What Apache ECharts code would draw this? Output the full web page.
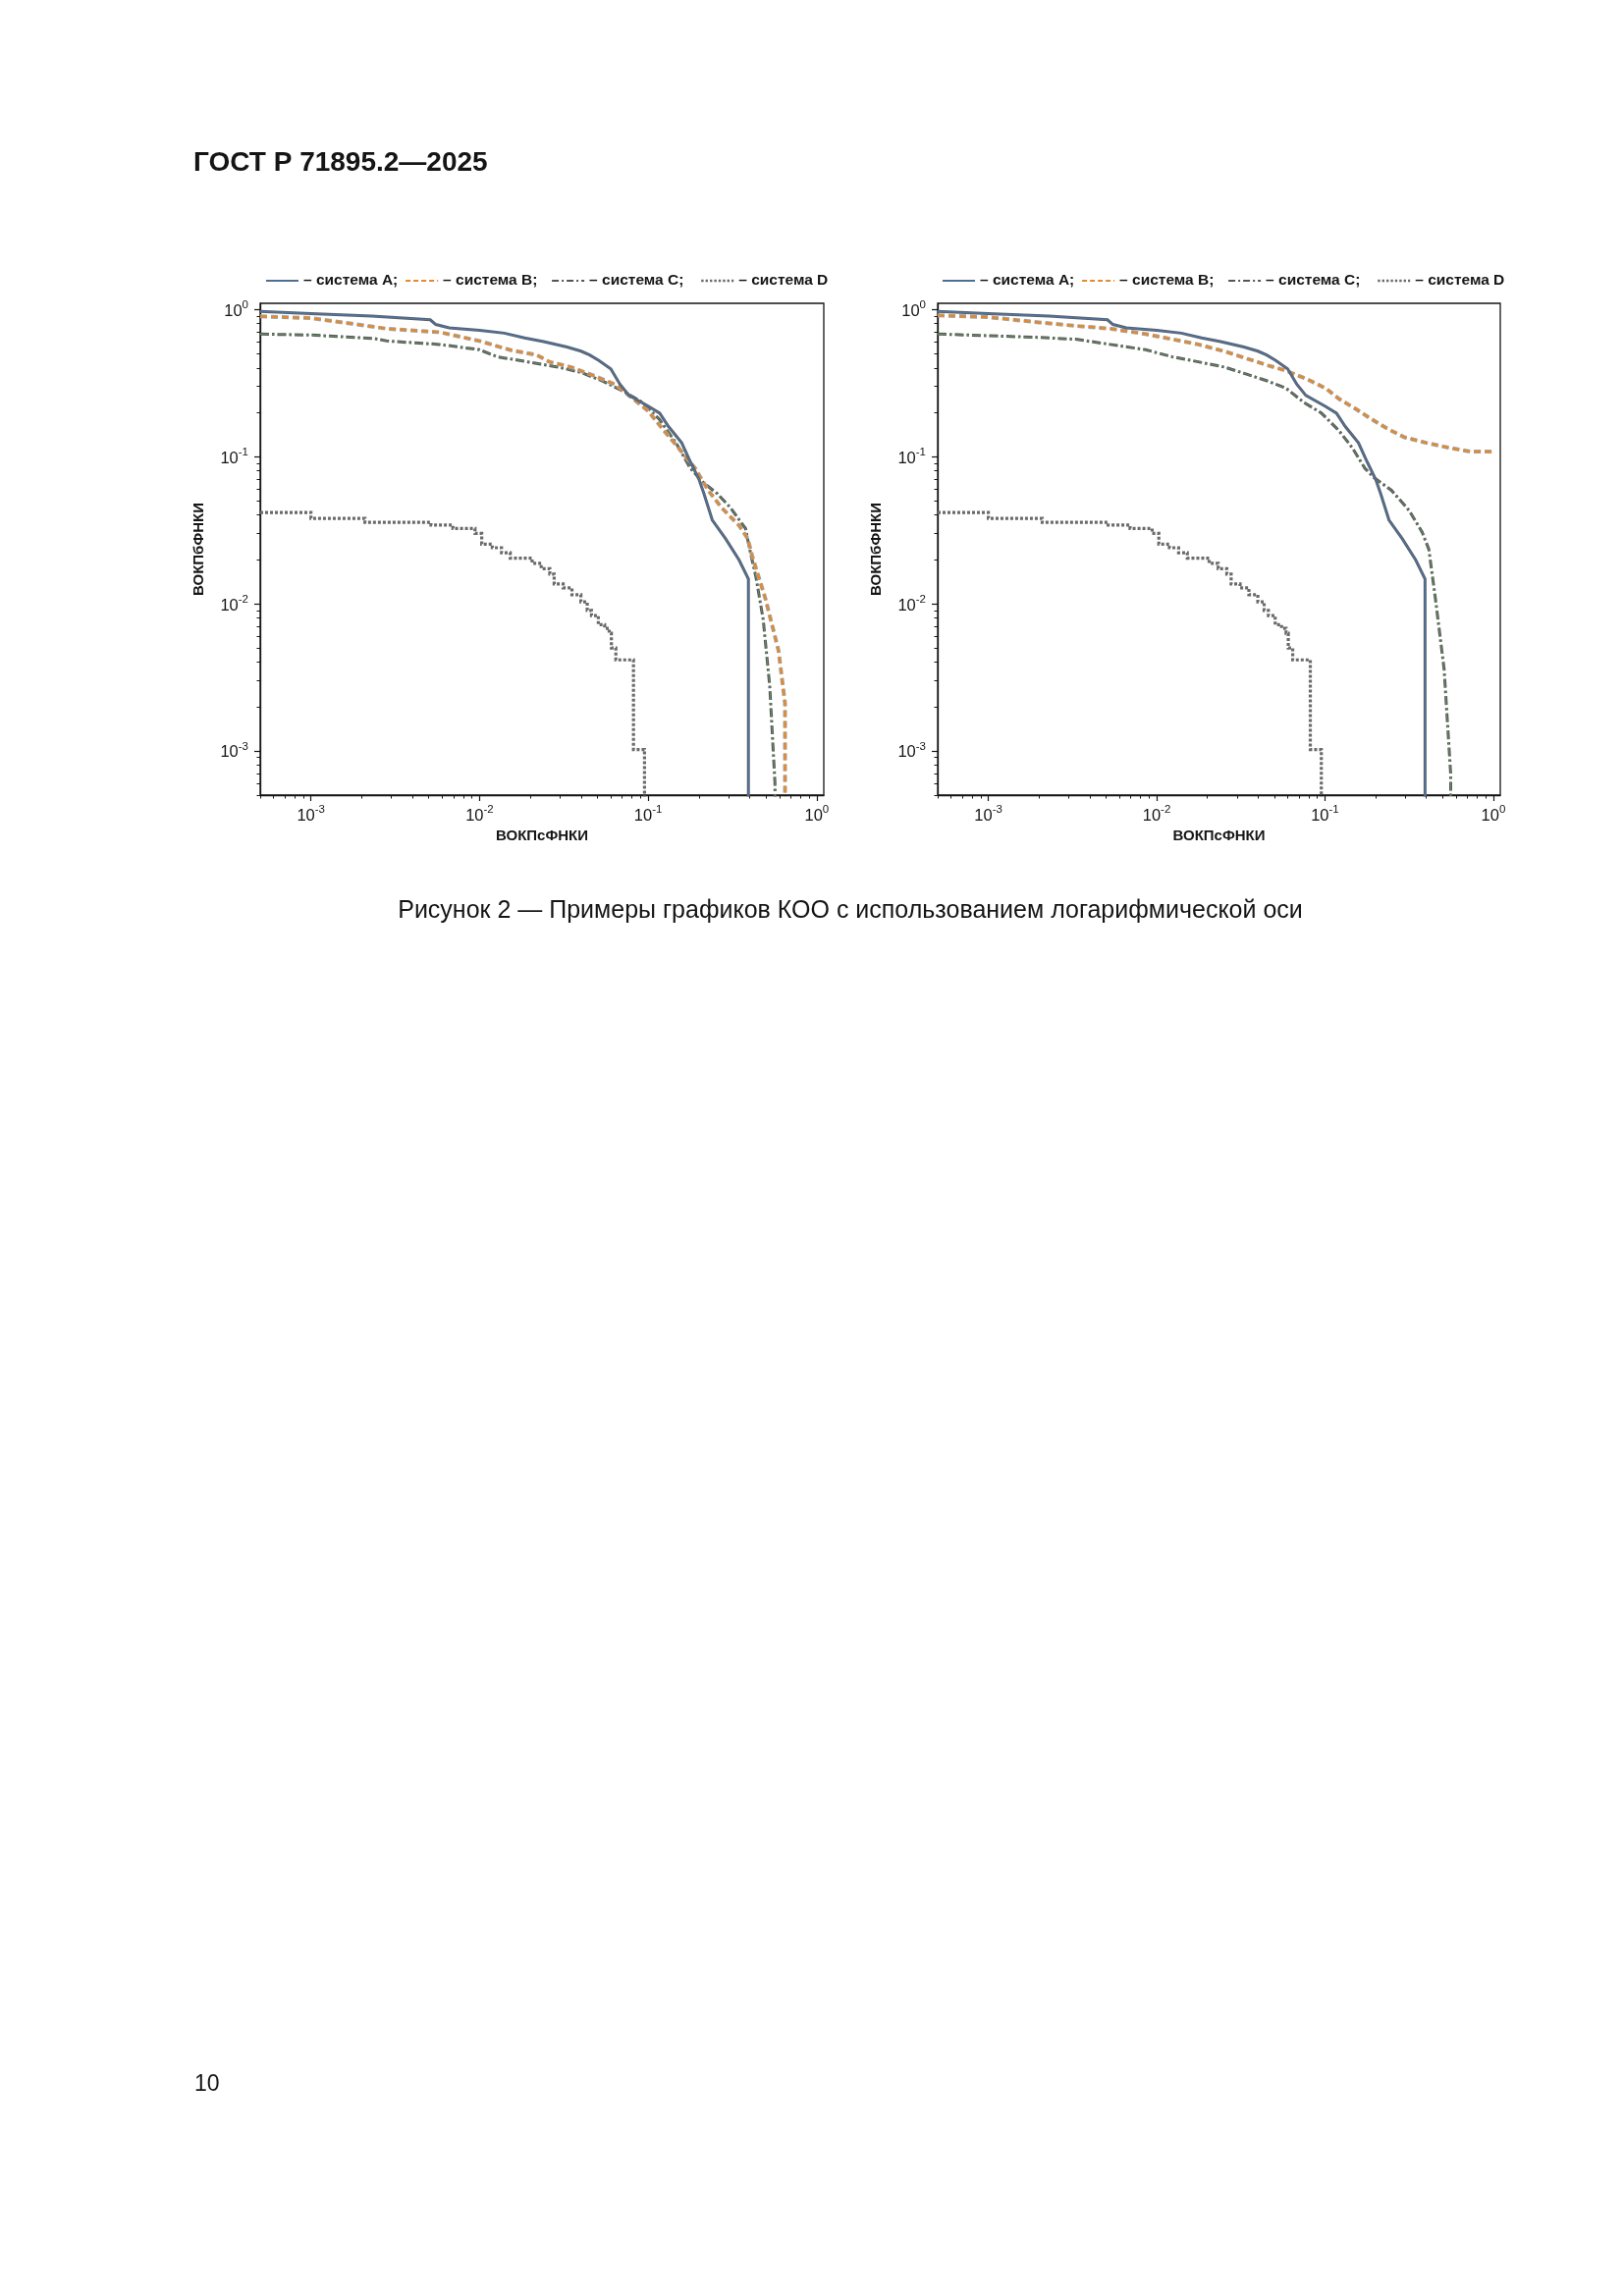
<!DOCTYPE html>
<html><head><meta charset="utf-8">
<script src="https://cdn.jsdelivr.net/npm/echarts@6/dist/echarts.min.js"></script>
<style>html,body{margin:0;padding:0;background:#fff}#c{width:1654px;height:2339px}</style>
</head><body><div id="c"></div>
<script>
// ---------- data ----------
const axisMin = 0.0005, axisMax = 1.1;
const majorTicks = [0.001, 0.01, 0.1, 1];
const legendLabels = ['– система A;', '– система B;', '– система C;', '– система D'];
const axisTitleX = 'ВОКПсФНКИ';
const axisTitleY = 'ВОКПбФНКИ';

// system A and D (identical in both panels)
const sysA = [[5e-4,0.97],[1e-3,0.935],[2.3e-3,0.90],[5.1e-3,0.85],[5.5e-3,0.79],[6.6e-3,0.75],[0.010,0.72],[0.014,0.69],[0.0185,0.64],[0.024,0.605],[0.033,0.555],[0.040,0.52],[0.045,0.49],[0.051,0.45],[0.060,0.395],[0.068,0.31],[0.077,0.26],[0.100,0.22],[0.117,0.197],[0.132,0.16],[0.158,0.124],[0.178,0.092],[0.200,0.070],[0.214,0.056],[0.240,0.037],[0.288,0.0276],[0.346,0.0198],[0.393,0.0147],[0.393,1e-5]];
const sysD = [[5e-4,0.0417],[1e-3,0.038],[2.09e-3,0.0357],[5.15e-3,0.0342],[6.95e-3,0.0324],[9.4e-3,0.030],[0.0103,0.0254],[0.0119,0.024],[0.0135,0.0222],[0.0152,0.0204],[0.0205,0.0188],[0.0232,0.0173],[0.0261,0.0159],[0.0277,0.0136],[0.0313,0.0128],[0.0353,0.0115],[0.0399,0.0103],[0.0435,0.009],[0.0461,0.0083],[0.0506,0.0072],[0.0552,0.0068],[0.0587,0.0063],[0.0605,0.005],[0.0643,0.00415],[0.0818,0.00102],[0.0951,1e-5]];
// left panel
const sysB_left = [[5e-4,0.896],[1e-3,0.872],[1.75e-3,0.80],[2.8e-3,0.74],[5.8e-3,0.70],[0.010,0.61],[0.0152,0.53],[0.0218,0.49],[0.026,0.44],[0.035,0.405],[0.048,0.353],[0.064,0.308],[0.077,0.26],[0.100,0.204],[0.124,0.15],[0.158,0.108],[0.190,0.083],[0.227,0.059],[0.272,0.045],[0.346,0.034],[0.390,0.0276],[0.414,0.021],[0.496,0.0108],[0.593,0.0048],[0.648,0.0021],[0.648,1e-5]];
const sysC_left = [[5e-4,0.68],[1e-3,0.67],[2.36e-3,0.634],[2.83e-3,0.61],[5.8e-3,0.578],[0.010,0.532],[0.0127,0.477],[0.0193,0.44],[0.0294,0.405],[0.040,0.373],[0.054,0.325],[0.0725,0.275],[0.092,0.234],[0.117,0.178],[0.148,0.121],[0.178,0.083],[0.214,0.066],[0.257,0.056],[0.307,0.045],[0.378,0.0324],[0.400,0.0234],[0.436,0.0151],[0.481,0.0078],[0.526,0.00275],[0.565,0.0006],[0.565,1e-5]];
// right panel
const sysB_right = [[5e-4,0.91],[1e-3,0.886],[2.0e-3,0.816],[3.3e-3,0.773],[5.3e-3,0.74],[8.6e-3,0.68],[0.0123,0.628],[0.0177,0.578],[0.0254,0.518],[0.0342,0.464],[0.046,0.416],[0.0587,0.383],[0.079,0.334],[0.101,0.291],[0.121,0.247],[0.153,0.21],[0.184,0.183],[0.234,0.155],[0.297,0.135],[0.40,0.124],[0.54,0.115],[0.73,0.108],[0.99,0.108]];
const sysC_right = [[5e-4,0.68],[1e-3,0.663],[2.0e-3,0.645],[3.3e-3,0.627],[5.3e-3,0.578],[8.6e-3,0.532],[0.0123,0.477],[0.0177,0.44],[0.0254,0.405],[0.0342,0.363],[0.046,0.325],[0.0587,0.291],[0.0746,0.234],[0.095,0.198],[0.121,0.15],[0.145,0.115],[0.173,0.083],[0.195,0.072],[0.248,0.059],[0.316,0.043],[0.378,0.0306],[0.414,0.0234],[0.453,0.0108],[0.51,0.0036],[0.558,0.0007],[0.558,1e-5]];

// ---------- helpers ----------
const F = "'Liberation Sans', Arial, Helvetica, sans-serif";
const INK = '#151515';
const minorTicks = [];
[1e-4, 1e-3, 1e-2, 1e-1].forEach(d => { for (let k = 2; k <= 9; k++) { const v = +(k * d).toPrecision(3); if (v >= axisMin && v <= axisMax) minorTicks.push(v); } });

function fmtLog(v) { const e = Math.round(Math.log10(v)); return '{b|10}{s|' + e + '}'; }
const richLab = {
  b: { fontSize: 16.5, fontFamily: F, color: INK, lineHeight: 21, verticalAlign: 'bottom' },
  s: { fontSize: 11.5, fontFamily: F, color: INK, lineHeight: 9, verticalAlign: 'top' }
};

const grids = [
  { left: 265, top: 309, width: 574, height: 501 },
  { left: 955, top: 309, width: 573, height: 501 }
];

function makeAxes(dim, gi) {
  const isX = dim === 'x';
  const major = {
    type: 'log', logBase: 10, gridIndex: gi, min: axisMin, max: axisMax,
    position: isX ? 'bottom' : 'left',
    name: isX ? axisTitleX : axisTitleY, nameLocation: 'middle', nameGap: isX ? 34 : 55,
    nameRotate: isX ? 0 : 90,
    nameTextStyle: { fontSize: 15, fontWeight: 'bold', color: INK, fontFamily: F },
    axisLine: { show: true, onZero: false, lineStyle: { color: INK, width: 1.3 } },
    axisTick: { show: true, customValues: majorTicks, length: 6, lineStyle: { color: INK, width: 1.2 } },
    axisLabel: { show: true, customValues: majorTicks, formatter: fmtLog, margin: isX ? 9 : 12, rich: richLab },
    splitLine: { show: false }, minorTick: { show: false }, minorSplitLine: { show: false }
  };
  const minor = {
    type: 'log', logBase: 10, gridIndex: gi, min: axisMin, max: axisMax,
    position: isX ? 'bottom' : 'left',
    axisLine: { show: false, onZero: false },
    axisTick: { show: true, customValues: minorTicks, length: 3.5, lineStyle: { color: INK, width: 1 } },
    axisLabel: { show: false }, splitLine: { show: false }
  };
  return [major, minor];
}

function ser(name, data, gi, color, width, dash, z, step) {
  return {
    type: 'line', name: name, data: data, xAxisIndex: gi * 2, yAxisIndex: gi * 2,
    symbol: 'none', showSymbol: false, silent: true, animation: false, clip: true, z: z,
    step: step || false,
    lineStyle: { color: color, width: width, type: dash, cap: 'butt', join: 'miter' }
  };
}
const dashB = [7, 4], dashC = [9, 3, 2.5, 3], dashD = [3, 2];

function panelSeries(gi, B, C) {
  const p = 'p' + gi;
  return [
    ser(p + 'D', sysD, gi, '#6a6a6a', 3.2, dashD, 3, 'end'),
    ser(p + 'Cu', C, gi, '#555555', 3, dashC, 4),
    ser(p + 'C', C, gi, '#6a9a6a', 0.9, dashC, 5),
    ser(p + 'Bu', B, gi, '#a3a3a3', 4, dashB, 6),
    ser(p + 'B', B, gi, '#e3892f', 2.2, dashB, 7),
    ser(p + 'Au', sysA, gi, '#5a6068', 3, 'solid', 8),
    ser(p + 'A', sysA, gi, '#4a7ab5', 1, 'solid', 9)
  ];
}

const legendX = [[270, 412, 561, 713], [959, 1101, 1250, 1402]];
const legendIcon = [
  { color: '#4f6f92', width: 2, type: 'solid' },
  { color: '#e3892f', width: 2.2, type: [5, 3] },
  { color: '#555555', width: 2.2, type: [7, 3, 2, 3] },
  { color: '#6a6a6a', width: 2.4, type: [2.4, 2] }
];
const legendKeys = ['A', 'B', 'C', 'D'];
const legends = [];
[0, 1].forEach(gi => {
  legendKeys.forEach((k, i) => {
    legends.push({
      left: legendX[gi][i], top: 278, orient: 'horizontal', itemWidth: 33, itemHeight: 14, itemGap: 0,
      selectedMode: false, padding: 0,
      data: [{ name: 'p' + gi + k, lineStyle: legendIcon[i], itemStyle: { opacity: 0 } }],
      formatter: () => legendLabels[i],
      textStyle: { fontSize: 15.5, fontWeight: 'bold', color: INK, fontFamily: F }
    });
  });
});

const option = {
  backgroundColor: '#ffffff',
  animation: false,
  grid: grids.map(g => Object.assign({ show: true, borderColor: INK, borderWidth: 1.3, backgroundColor: 'transparent', containLabel: false }, g)),
  xAxis: [].concat(makeAxes('x', 0), makeAxes('x', 1)),
  yAxis: [].concat(makeAxes('y', 0), makeAxes('y', 1)),
  legend: legends,
  series: [].concat(panelSeries(0, sysB_left, sysC_left), panelSeries(1, sysB_right, sysC_right)),
  graphic: [
    { type: 'text', left: 197, top: 152, style: { text: 'ГОСТ Р 71895.2—2025', font: "bold 28px " + F, fill: INK } },
    { type: 'text', x: 866, y: 928, style: { text: 'Рисунок 2 — Примеры графиков КОО с использованием логарифмической оси', font: "25px " + F, fill: INK, align: 'center', verticalAlign: 'middle' } },
    { type: 'text', left: 198, top: 2112, style: { text: '10', font: "23px " + F, fill: INK } }
  ]
};
const chart = echarts.init(document.getElementById('c'), null, { renderer: 'canvas', width: 1654, height: 2339 });
chart.setOption(option);
</script></body></html>
